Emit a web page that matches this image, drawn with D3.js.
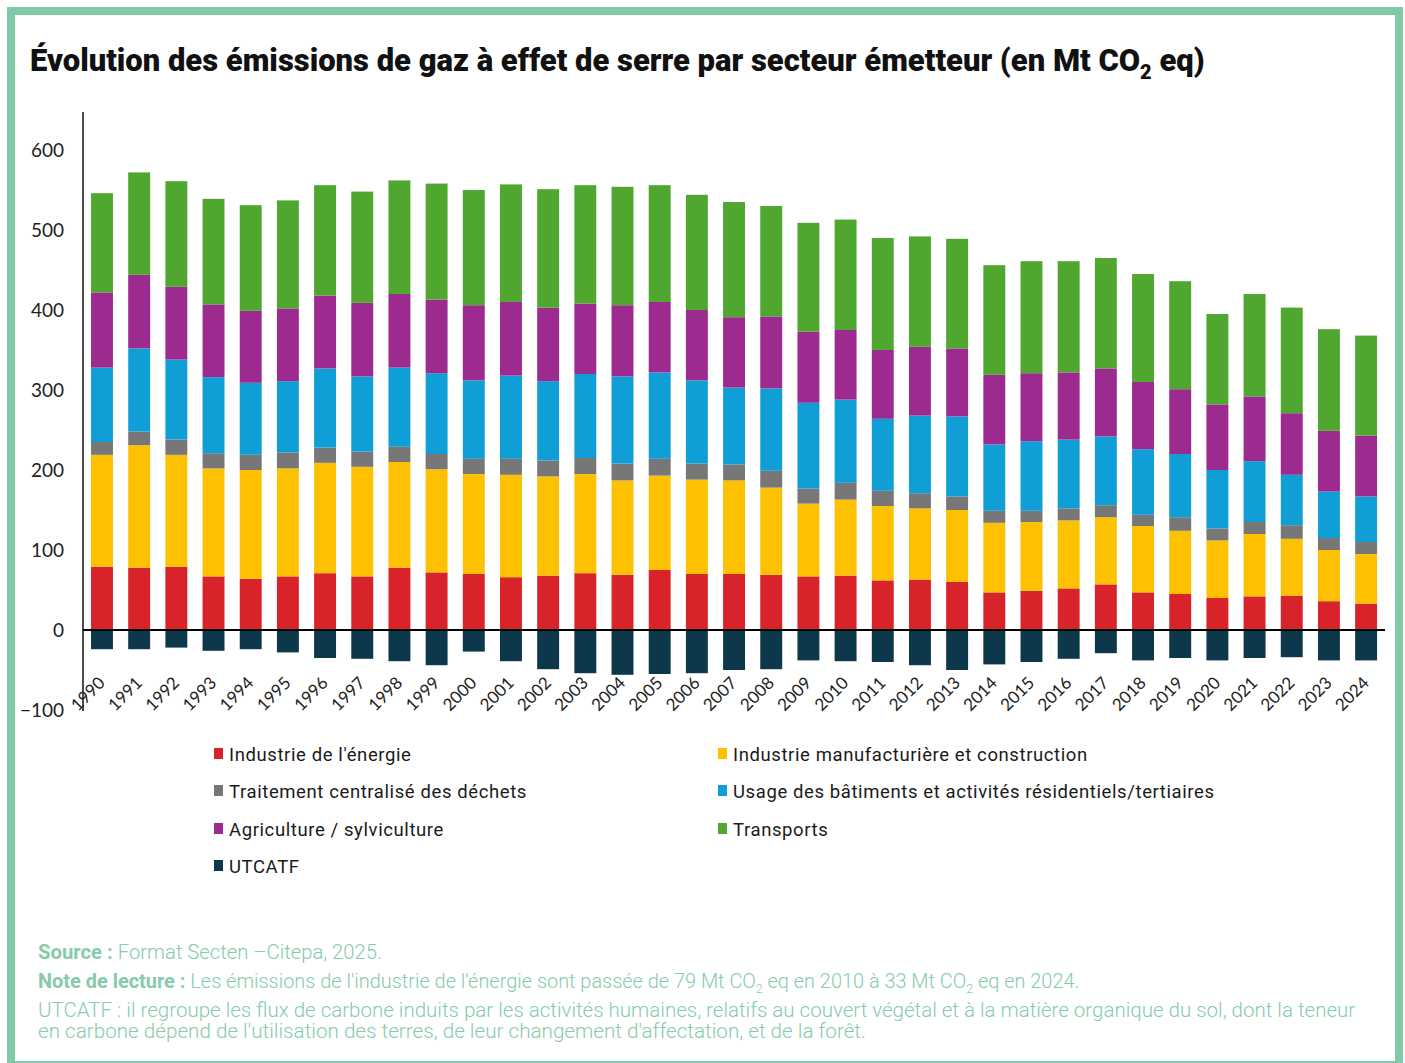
<!DOCTYPE html>
<html>
<head>
<meta charset="utf-8">
<script src="https://cdn.jsdelivr.net/npm/d3@7/dist/d3.min.js"></script>
<style>
  body { margin: 0; background: #fff; }
  svg { display: block; }
</style>
</head>
<body>
<svg id="chart" width="1405" height="1063"></svg>
<script>
// Emissions by sector, Mt CO2 eq (Secten format, Citepa 2025)
const years = ["1990","1991","1992","1993","1994","1995","1996","1997","1998","1999",
  "2000","2001","2002","2003","2004","2005","2006","2007","2008","2009",
  "2010","2011","2012","2013","2014","2015","2016","2017","2018","2019",
  "2020","2021","2022","2023","2024"];

const energie     = [79,78,79,67,64,67,71,67,78,72, 70,66,68,71,69,75,70,70,69,67, 68,62,63,60,47,49,52,57,47,45, 40,42,43,36,33];
const manufacture = [140,153,140,135,136,135,138,137,132,129, 125,128,124,124,118,118,118,117,109,91, 95,93,89,90,87,86,85,84,83,79, 72,78,71,64,62];
const dechets     = [16,17,19,19,19,20,19,19,19,19, 19,20,20,20,21,21,20,20,21,19, 21,19,19,17,15,14,15,15,14,17, 15,15,17,15,15];
const batiments   = [93,104,100,95,90,89,99,94,99,101, 98,104,99,105,109,108,104,96,103,107, 104,90,97,100,83,87,86,86,82,79, 73,76,63,58,57];
const agriculture = [94,92,91,91,90,91,91,92,92,92, 94,92,92,88,89,88,88,88,90,89, 87,86,86,85,87,85,84,85,84,81, 82,81,77,76,76];
const transports  = [124,128,132,132,132,135,138,139,142,145, 144,147,148,148,148,146,144,144,138,136, 138,140,138,137,137,140,139,138,135,135, 113,128,132,127,125];
const utcatf      = [-24,-24,-22,-26,-24,-28,-35,-36,-39,-44, -27,-39,-49,-54,-56,-55,-54,-50,-49,-38, -39,-40,-44,-50,-43,-40,-36,-29,-38,-35, -38,-35,-34,-38,-38];

const seriesKeys   = ["energie","manufacture","dechets","batiments","agriculture","transports","utcatf"];
const seriesLabels = ["Industrie de l'énergie","Industrie manufacturière et construction",
  "Traitement centralisé des déchets","Usage des bâtiments et activités résidentiels/tertiaires",
  "Agriculture / sylviculture","Transports","UTCATF"];
const seriesColors = ["#d9232b","#fdc101","#777777","#0f9fd6","#9d2b8f","#4fa72f","#0d384c"];
const yTicks = [-100,0,100,200,300,400,500,600];

const sourceValues = {energie, manufacture, dechets, batiments, agriculture, transports, utcatf};
const rows = years.map((y, i) => {
  const r = {year: y};
  seriesKeys.forEach(k => r[k] = sourceValues[k][i]);
  return r;
});

const svg = d3.select("#chart");
const frameGreen = "#80c8a7";
const noteGreen = "#86cbaa";

// outer frame
svg.append("rect")
  .attr("x", 11).attr("y", 11).attr("width", 1388).attr("height", 1054)
  .attr("fill", "none").attr("stroke", frameGreen).attr("stroke-width", 8);

// squeeze a text element horizontally so it spans a given width from its x position
function fitWidth(sel, x, width) {
  const w = sel.node().getComputedTextLength();
  const k = width / w;
  const y = +sel.attr("y");
  sel.attr("x", 0).attr("y", 0)
     .attr("transform", `translate(${x},${y}) scale(${k},1)`);
}

// title
const title = svg.append("text")
  .attr("x", 30).attr("y", 71)
  .attr("font-family", "Roboto, sans-serif")
  .attr("font-weight", 900).attr("font-size", 31).attr("fill", "#111");
title.append("tspan").text("Évolution des émissions de gaz à effet de serre par secteur émetteur (en Mt CO");
title.append("tspan").attr("font-size", 20).attr("dy", 8).text("2");
title.append("tspan").attr("dy", -8).text(" eq)");
fitWidth(title, 30, 1175);

// scales
const x = d3.scaleBand().domain(years).range([83.4, 1384.7]).paddingInner(0.41).paddingOuter(0.205);
const y = d3.scaleLinear().domain([-100, 650]).range([710, 110]);

const stack = d3.stack().keys(seriesKeys).offset(d3.stackOffsetDiverging);
const layers = stack(rows);

const g = svg.append("g");
g.selectAll("g.layer").data(layers).join("g")
  .attr("class", "layer")
  .attr("fill", (d, i) => seriesColors[i])
  .selectAll("rect").data(d => d).join("rect")
  .attr("x", d => x(d.data.year))
  .attr("width", x.bandwidth())
  .attr("y", d => y(Math.max(d[0], d[1])))
  .attr("height", d => Math.abs(y(d[0]) - y(d[1])));

// y axis
const yAxis = d3.axisLeft(y).tickValues(yTicks).tickSize(0).tickPadding(19);
const ya = svg.append("g").attr("transform", "translate(83,0)").call(yAxis);
ya.select(".domain").remove();
ya.selectAll("text")
  .attr("font-family", "Lato, sans-serif").attr("font-size", 19).attr("fill", "#222");
svg.append("line").attr("x1", 83).attr("x2", 83).attr("y1", 112).attr("y2", 711)
  .attr("stroke", "#111").attr("stroke-width", 1.5);

// zero line
svg.append("line").attr("x1", 83).attr("x2", 1385).attr("y1", y(0)).attr("y2", y(0))
  .attr("stroke", "#000").attr("stroke-width", 2);

// x axis labels, rotated
const xAxis = d3.axisBottom(x).tickSize(0).tickPadding(0);
const xa = svg.append("g").call(xAxis);
xa.select(".domain").remove();
xa.selectAll(".tick").attr("transform", d => `translate(${x(d) + x.bandwidth() / 2 + 4},684)`);
xa.selectAll("text")
  .attr("font-family", "Lato, sans-serif").attr("font-size", 17).attr("fill", "#222")
  .attr("dy", 0).attr("y", 0)
  .attr("text-anchor", "end")
  .attr("transform", "rotate(-45)");

// legend, two columns
const legendCols = [214, 718];
const legendRows = [754, 791, 829, 866];
const legend = svg.append("g");
seriesLabels.forEach((label, i) => {
  const lx = legendCols[i % 2], ly = legendRows[Math.floor(i / 2)];
  legend.append("rect").attr("x", lx).attr("y", ly - 6).attr("width", 9).attr("height", 11)
    .attr("fill", seriesColors[i]);
  legend.append("text").attr("x", lx + 15).attr("y", ly + 6.5)
    .attr("font-family", "Roboto, sans-serif").attr("font-size", 18.5)
    .attr("letter-spacing", 0.6).attr("fill", "#1a1a1a").text(label);
});

// notes
const notes = svg.append("g").attr("font-family", "Roboto, sans-serif").attr("fill", noteGreen);
const n1 = notes.append("text").attr("x", 38).attr("y", 959).attr("font-size", 19.5);
n1.append("tspan").attr("font-weight", 700).text("Source : ");
n1.append("tspan").attr("font-weight", 300).text("Format Secten –Citepa, 2025.");
fitWidth(n1, 38, 344);

const n2 = notes.append("text").attr("x", 38).attr("y", 988).attr("font-size", 19.5);
n2.append("tspan").attr("font-weight", 700).text("Note de lecture : ");
n2.append("tspan").attr("font-weight", 300).text("Les émissions de l'industrie de l'énergie sont passée de 79 Mt CO");
n2.append("tspan").attr("font-weight", 300).attr("font-size", 12).attr("dy", 5).text("2");
n2.append("tspan").attr("font-weight", 300).attr("dy", -5).text(" eq en 2010 à 33 Mt CO");
n2.append("tspan").attr("font-weight", 300).attr("font-size", 12).attr("dy", 5).text("2");
n2.append("tspan").attr("font-weight", 300).attr("dy", -5).text(" eq en 2024.");
fitWidth(n2, 38, 1042);

const n3 = notes.append("text").attr("x", 38).attr("y", 1017).attr("font-size", 19.5).attr("font-weight", 300)
  .text("UTCATF : il regroupe les flux de carbone induits par les activités humaines, relatifs au couvert végétal et à la matière organique du sol, dont la teneur");
fitWidth(n3, 38, 1318);
const n4 = notes.append("text").attr("x", 38).attr("y", 1038).attr("font-size", 19.5).attr("font-weight", 300)
  .text("en carbone dépend de l'utilisation des terres, de leur changement d'affectation, et de la forêt.");
fitWidth(n4, 38, 828);
</script>
</body>
</html>
